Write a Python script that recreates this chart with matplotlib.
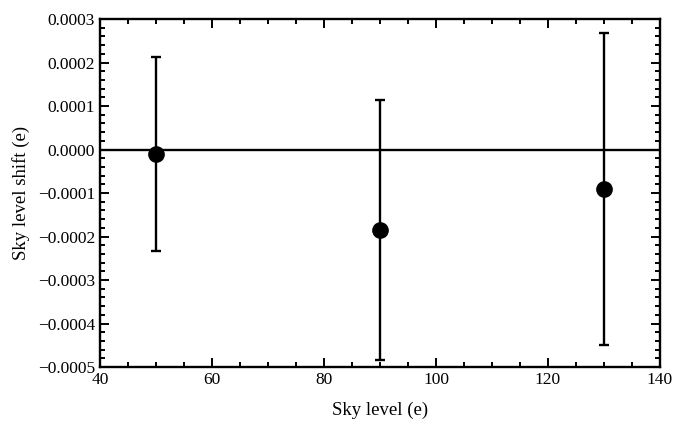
import matplotlib
matplotlib.use('Agg')
import matplotlib.pyplot as plt
from matplotlib.ticker import MultipleLocator, FuncFormatter

sky_level = [50, 90, 130]
shift = [-0.0000103, -0.000185, -0.0000908]
err_upper = [0.000213, 0.000114, 0.000268]
err_lower = [-0.000233, -0.000484, -0.000449]

plt.rcParams['font.family'] = ['Liberation Serif', 'DejaVu Serif']

fig = plt.figure(figsize=(6.73, 4.28), dpi=100)
ax = fig.add_axes([0.1486, 0.1425, 0.8321, 0.8131])

yerr = [[s - lo for s, lo in zip(shift, err_lower)],
        [hi - s for s, hi in zip(shift, err_upper)]]
ax.axhline(0, color='black', lw=1.7, zorder=1)
ax.errorbar(sky_level, shift, yerr=yerr, fmt='o', color='black',
            ms=11, elinewidth=1.7, capsize=3.5, capthick=1.7, zorder=2)

ax.set_xlim(40, 140)
ax.set_ylim(-0.0005, 0.0003)
ax.xaxis.set_major_locator(MultipleLocator(20))
ax.xaxis.set_minor_locator(MultipleLocator(5))
ax.yaxis.set_major_locator(MultipleLocator(0.0001))
ax.yaxis.set_minor_locator(MultipleLocator(0.00002))


def fmt(v, pos):
    s = '%.4f' % v
    if s == '-0.0000':
        s = '0.0000'
    return s.replace('-', '\u2212')


ax.yaxis.set_major_formatter(FuncFormatter(fmt))
ax.tick_params(which='both', direction='in', top=True, right=True,
               labelsize=12.5, width=1.4)
ax.tick_params(which='major', length=6.5)
ax.tick_params(which='minor', length=3.5)
for sp in ax.spines.values():
    sp.set_linewidth(1.7)

ax.set_xlabel('Sky level (e)', fontsize=13.5, labelpad=10)
ax.set_ylabel('Sky level shift (e)', fontsize=13.5, labelpad=6)

fig.savefig('out.png', dpi=100)
